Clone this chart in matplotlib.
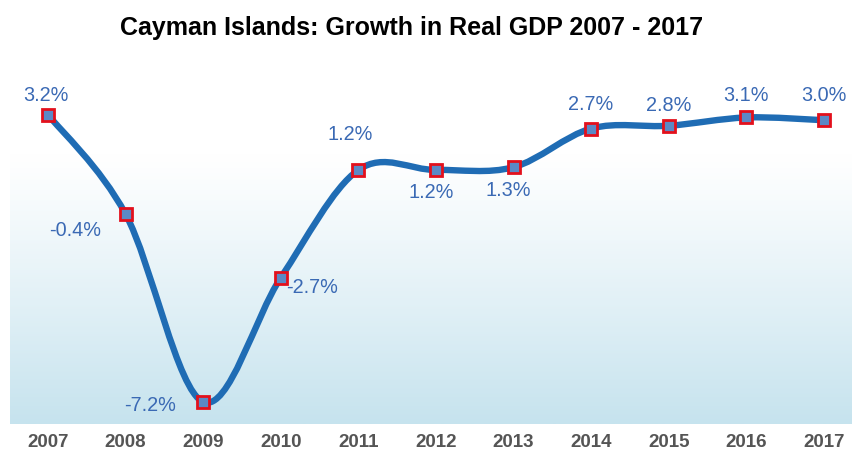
import numpy as np
import matplotlib
matplotlib.use("Agg")
import matplotlib.pyplot as plt
from matplotlib.path import Path
from matplotlib.patches import PathPatch

years = [2007, 2008, 2009, 2010, 2011, 2012, 2013, 2014, 2015, 2016, 2017]
growth = [3.2, -0.4, -7.2, -2.7, 1.2, 1.2, 1.3, 2.7, 2.8, 3.1, 3.0]
labels = ["3.2%", "-0.4%", "-7.2%", "-2.7%", "1.2%", "1.2%", "1.3%", "2.7%", "2.8%", "3.1%", "3.0%"]
title = "Cayman Islands: Growth in Real GDP 2007 - 2017"

# label offsets in pixels (layout)
label_offsets = [(-2, 19), (-50, -16), (-53, -4), (31, -10), (-8, 35), (-5, -23),
                 (-5, -23), (-1, 24), (0, 20), (0, 22), (0, 25)]

plt.rcParams['font.family'] = ['Liberation Sans', 'DejaVu Sans']

W, H = 853, 454
fig = plt.figure(figsize=(W / 100, H / 100), dpi=100)
ax = fig.add_axes([10 / W, 30 / H, 843 / W, 359 / H])
ax.set_xlim(2006.51, 2017.374)
ax.set_ylim(-8.0, 5.0)

# gradient background
n = 256
t = np.linspace(0, 1, n)  # 0 at top, 1 at bottom
start = 0.25
f = np.clip((t - start) / (1 - start), 0, 1) ** 1.1
top_c = np.array([1.0, 1.0, 1.0])
bot_c = np.array([198, 227, 238]) / 255.0
img = top_c[None, :] * (1 - f[:, None]) + bot_c[None, :] * f[:, None]
img = img[:, None, :]
ax.imshow(img, extent=[2006.51, 2017.374, -8.0, 5.0], aspect='auto', zorder=0, origin='upper')

# Catmull-Rom style smooth curve through the points
x = np.array(years, dtype=float)
y = np.array(growth, dtype=float)
N = len(x)
mx = np.zeros(N)
my = np.zeros(N)
for i in range(N):
    a = max(i - 1, 0)
    b = min(i + 1, N - 1)
    mx[i] = (x[b] - x[a]) / 2.0
    my[i] = (y[b] - y[a]) / 2.0

verts = [(x[0], y[0])]
codes = [Path.MOVETO]
for i in range(1, N):
    c1 = (x[i - 1] + mx[i - 1] / 3.0, y[i - 1] + my[i - 1] / 3.0)
    c2 = (x[i] - mx[i] / 3.0, y[i] - my[i] / 3.0)
    verts += [c1, c2, (x[i], y[i])]
    codes += [Path.CURVE4] * 3
path = Path(verts, codes)
ax.add_patch(PathPatch(path, facecolor='none', edgecolor='#1f6cb4', lw=4.6,
                       capstyle='round', joinstyle='round', zorder=3))

ax.plot(x, y, linestyle='none', marker='s', markersize=8.3, markerfacecolor='#5b89c6',
        markeredgecolor='#e3101c', markeredgewidth=2.0, zorder=4)

for xi, yi, lab, (dx, dy) in zip(x, y, labels, label_offsets):
    ax.annotate(lab, (xi, yi), xytext=(dx, dy), textcoords='offset pixels',
                ha='center', va='center', fontsize=14.3, color='#3a69b4', zorder=5)

ax.set_xticks(years)
ax.set_xticklabels([str(v) for v in years], fontsize=13.5, fontweight='bold', color='#555555')
ax.tick_params(axis='x', length=0, pad=7)
ax.set_yticks([])
for s in ax.spines.values():
    s.set_visible(False)

fig.text(412 / W, 1 - 28 / H, title, ha='center', va='center', fontsize=18,
         fontweight='bold', color='#000000')

fig.savefig('out.png', dpi=100)
